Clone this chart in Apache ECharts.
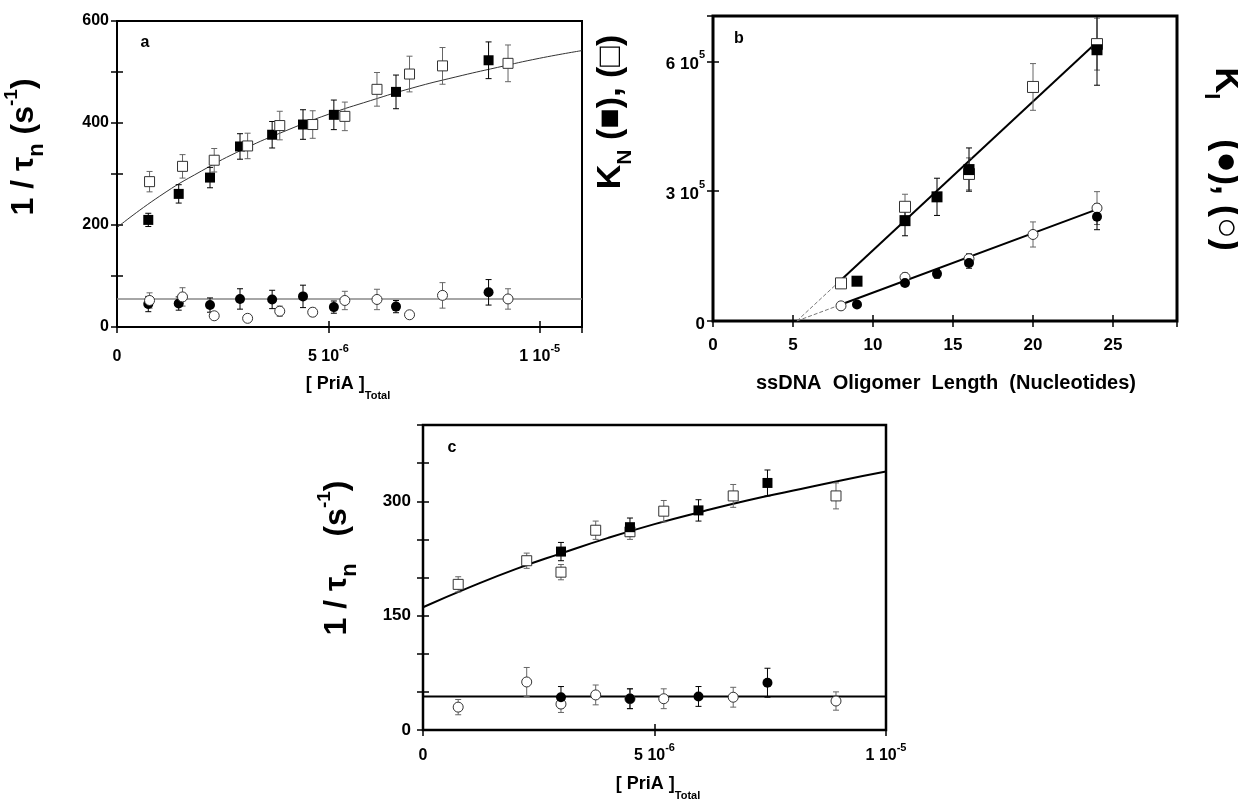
<!DOCTYPE html>
<html><head><meta charset="utf-8">
<script src="https://cdn.jsdelivr.net/npm/echarts/dist/echarts.min.js"></script>
<style>html,body{margin:0;padding:0;background:#fff}#chart{width:1238px;height:804px}</style>
</head><body><div id="chart"></div>
<script>
// ---------------- Panel a : 1/tau_n vs [PriA]_Total ----------------
// [x, y, errorHalfWidth]
const aOpenSquares = [[0.77e-6,285,20],[1.55e-6,315,23],[2.30e-6,327,23],[3.09e-6,355,25],[3.85e-6,395,28],[4.63e-6,397,27],[5.39e-6,413,28],[6.15e-6,466,33],[6.92e-6,496,35],[7.70e-6,512,36],[9.25e-6,517,36]];
const aFilledSquares = [[0.74e-6,210,13],[1.46e-6,261,18],[2.20e-6,293,20],[2.91e-6,354,25],[3.67e-6,377,26],[4.40e-6,397,29],[5.13e-6,416,29],[6.60e-6,461,33],[8.79e-6,523,36]];
const aOpenCircles = [[0.77e-6,52,15],[1.55e-6,59,18],[2.30e-6,22,5],[3.09e-6,17,0],[3.85e-6,31,10],[4.63e-6,29,8],[5.39e-6,52,18],[6.15e-6,54,20],[6.92e-6,24,5],[7.70e-6,62,25],[9.25e-6,55,20]];
const aFilledCircles = [[0.74e-6,45,15],[1.46e-6,46,13],[2.20e-6,43,14],[2.91e-6,55,20],[3.67e-6,54,18],[4.40e-6,60,22],[5.13e-6,39,12],[6.60e-6,40,12],[8.79e-6,68,25]];
const aFitCurve = [[0,195],[1e-6,256],[2e-6,306],[3e-6,349],[4e-6,385],[5e-6,417],[6e-6,444],[7e-6,469],[8e-6,490],[9e-6,509],[1e-5,527],[1.1e-5,542]];
const aBaseline = [[0,55],[1.1e-5,55]];
const aYTicks = [0,200,400,600];

// ---------------- Panel b : K vs ssDNA oligomer length ----------------
const bOpenSquares = [[8,87000,0],[12,264000,29000],[16,340000,37000],[20,541000,54000],[24,640000,60000]];
const bFilledSquares = [[9,92000,8000],[12,232000,35000],[14,287000,43000],[16,350000,50000],[24,627000,82000]];
const bOpenCircles = [[8,35000,0],[12,101000,10000],[16,144000,12000],[20,200000,29000],[24,261000,38000]];
const bFilledCircles = [[9,38000,0],[12,88000,8000],[14,109000,10000],[16,134000,12000],[24,241000,30000]];
const bFitSquares = [[8,95000],[24,645000]];
const bFitCircles = [[8,38000],[24,258000]];
const bDashSquares = [[5.24,0],[8,95000]];
const bDashCircles = [[5.24,0],[8,38000]];
const bXTicks = [0,5,10,15,20,25];

// ---------------- Panel c : 1/tau_n vs [PriA]_Total ----------------
const cOpenSquares = [[0.76e-6,191,10],[2.24e-6,222,10],[2.98e-6,207,10],[3.73e-6,262,12],[4.47e-6,260,10],[5.20e-6,287,14],[6.70e-6,307,15],[8.92e-6,307,17]];
const cFilledSquares = [[2.98e-6,234,12],[4.47e-6,266,12],[5.95e-6,288,14],[7.44e-6,324,17]];
const cOpenCircles = [[0.76e-6,30,10],[2.24e-6,63,19],[2.98e-6,34,11],[3.73e-6,46,13],[4.47e-6,41,13],[5.20e-6,41,13],[6.70e-6,43,13],[8.92e-6,38,12]];
const cFilledCircles = [[2.98e-6,43,14],[4.47e-6,41,13],[5.95e-6,44,13],[7.44e-6,62,19]];
const cFitCurve = [[0,161],[1e-6,187],[2e-6,211],[3e-6,232],[4e-6,252],[5e-6,270],[6e-6,286],[7e-6,301],[8e-6,314],[9e-6,327],[1e-5,339]];
const cBaseline = [[0,44],[1e-5,44]];
const cYTicks = [0,150,300];

// ---------------- rendering ----------------
const F = '"Liberation Sans", Arial, Helvetica, sans-serif';
const chart = echarts.init(document.getElementById('chart'), null, {renderer:'canvas'});

const tickRich = {
  n:{fontSize:16,fontWeight:'bold',fontFamily:F,color:'#000',padding:[6,0,0,0],verticalAlign:'bottom'},
  s:{fontSize:11,fontWeight:'bold',fontFamily:F,color:'#000',verticalAlign:'top'}
};
const tickRichB = {
  n:{fontSize:17,fontWeight:'bold',fontFamily:F,color:'#000',padding:[6,0,0,0],verticalAlign:'bottom'},
  s:{fontSize:11,fontWeight:'bold',fontFamily:F,color:'#000',verticalAlign:'top'}
};
function expFmt(v){
  const k = Math.round(v/1e-6);
  if (k===0) return '{n|0}';
  if (k===5) return '{n|5 10}{s|-6}';
  if (k===10) return '{n|1 10}{s|-5}';
  return '';
}
const labBase = {color:'#000',fontWeight:'bold',fontFamily:F};
const tick = {show:true,inside:true,length:6,lineStyle:{color:'#000',width:1.5}};

function xAxes(grid, min, max, interval, fmt, rich, size, margin){
  return [
    {type:'value',gridIndex:grid,position:'bottom',min,max,interval,splitLine:{show:false},axisLine:{show:false},axisTick:tick,
     axisLabel:Object.assign({},labBase,{fontSize:size,margin,formatter:fmt,rich})},
    {type:'value',gridIndex:grid,position:'top',min,max,interval,splitLine:{show:false},axisLine:{show:false},axisTick:tick,axisLabel:{show:false}}
  ];
}
function yAxes(grid, min, max, interval, fmt, rich, size, margin){
  return [
    {type:'value',gridIndex:grid,position:'left',min,max,interval,splitLine:{show:false},axisLine:{show:false},axisTick:tick,
     axisLabel:Object.assign({},labBase,{fontSize:size,margin,formatter:fmt,rich})},
    {type:'value',gridIndex:grid,position:'right',min,max,interval,splitLine:{show:false},axisLine:{show:false},axisTick:tick,axisLabel:{show:false}}
  ];
}

function errSeries(data, xi, yi, color){
  return {type:'custom',xAxisIndex:xi,yAxisIndex:yi,clip:true,silent:true,z:3,data,
    renderItem(params, api){
      const x=api.value(0), y=api.value(1), e=api.value(2);
      if (!e) return null;
      const hi=api.coord([x,y+e]), lo=api.coord([x,y-e]);
      const st={stroke:color,lineWidth:1};
      const w=3;
      return {type:'group',children:[
        {type:'line',shape:{x1:hi[0],y1:hi[1],x2:lo[0],y2:lo[1]},style:st},
        {type:'line',shape:{x1:hi[0]-w,y1:hi[1],x2:hi[0]+w,y2:hi[1]},style:st},
        {type:'line',shape:{x1:lo[0]-w,y1:lo[1],x2:lo[0]+w,y2:lo[1]},style:st}
      ]};
    }};
}
function pts(data, xi, yi, symbol, size, filled, z){
  return {type:'scatter',xAxisIndex:xi,yAxisIndex:yi,symbol,symbolSize:size,z:z||5,silent:true,
    data:data.map(d=>[d[0],d[1]]),
    itemStyle: filled ? {color:'#000',opacity:1} : {color:'#fff',borderColor:'#333',borderWidth:1,opacity:1}};
}
function line(data, xi, yi, color, width, smooth, type){
  return {type:'line',xAxisIndex:xi,yAxisIndex:yi,data,smooth:smooth||false,showSymbol:false,symbol:'none',silent:true,z:2,
    lineStyle:{color,width,type:type||'solid'}};
}

const titleRich = (size, subK)=>({
  m:{fontSize:size,fontWeight:'bold',fontFamily:F,color:'#000',padding:[6,0,8,0],verticalAlign:'bottom'},
  sub:{fontSize:Math.round(size*(subK||0.62)),fontWeight:'bold',fontFamily:F,color:'#000',verticalAlign:'bottom'},
  sup:{fontSize:Math.round(size*0.58),fontWeight:'bold',fontFamily:F,color:'#000',verticalAlign:'top'}
});
function txt(x, y, text, rich, rot){
  return {type:'text',x,y,rotation:rot||0,silent:true,z:10,
    style:{text,rich,align:'center',verticalAlign:'middle',fill:'#000'}};
}

const option = {
  animation:false,
  backgroundColor:'#fff',
  grid:[
    {left:117,top:21,width:465,height:306,show:true,borderColor:'#000',borderWidth:2,backgroundColor:'transparent'},
    {left:713,top:16,width:464,height:305,show:true,borderColor:'#000',borderWidth:3,backgroundColor:'transparent'},
    {left:423,top:425,width:463,height:305,show:true,borderColor:'#000',borderWidth:2.5,backgroundColor:'transparent'}
  ],
  xAxis:[].concat(
    xAxes(0,0,1.1e-5,5e-6,expFmt,tickRich,16,16),
    xAxes(1,0,29,5,v=>bXTicks.includes(v)?'{n|'+v+'}':'',tickRichB,17,10),
    xAxes(2,0,1e-5,5e-6,expFmt,tickRich,17,12)
  ),
  yAxis:[].concat(
    yAxes(0,0,600,100,v=>aYTicks.includes(v)?String(v):'',null,16,8),
    yAxes(1,0,705000,300000,v=>v===0?'{n|0}':(v===300000?'{n|3 10}{s|5}':(v===600000?'{n|6 10}{s|5}':'')),tickRichB,17,8),
    yAxes(2,0,400,50,v=>cYTicks.includes(v)?String(v):'',null,17,12)
  ),
  series:[
    // panel a
    line(aFitCurve,0,0,'#333',1,true),
    line(aBaseline,0,0,'#888',1.5),
    errSeries(aFilledCircles,0,0,'#000'),
    errSeries(aOpenCircles,0,0,'#666'),
    errSeries(aFilledSquares,0,0,'#000'),
    errSeries(aOpenSquares,0,0,'#666'),
    pts(aFilledCircles,0,0,'circle',10,true,5),
    pts(aOpenCircles,0,0,'circle',10,false,6),
    pts(aFilledSquares,0,0,'rect',10,true,5),
    pts(aOpenSquares,0,0,'rect',10,false,6),
    // panel b
    line(bDashSquares,2,2,'#777',1,false,'dashed'),
    line(bDashCircles,2,2,'#777',1,false,'dashed'),
    line(bFitSquares,2,2,'#000',2),
    line(bFitCircles,2,2,'#000',2),
    errSeries(bOpenSquares,2,2,'#666'),
    errSeries(bOpenCircles,2,2,'#666'),
    errSeries(bFilledSquares,2,2,'#000'),
    errSeries(bFilledCircles,2,2,'#000'),
    pts(bOpenSquares,2,2,'rect',11,false,5),
    pts(bOpenCircles,2,2,'circle',10,false,5),
    pts(bFilledSquares,2,2,'rect',11,true,6),
    pts(bFilledCircles,2,2,'circle',10,true,6),
    // panel c
    line(cFitCurve,4,4,'#000',2,true),
    line(cBaseline,4,4,'#000',2),
    errSeries(cOpenSquares,4,4,'#666'),
    errSeries(cOpenCircles,4,4,'#666'),
    errSeries(cFilledSquares,4,4,'#000'),
    errSeries(cFilledCircles,4,4,'#000'),
    pts(cOpenSquares,4,4,'rect',10,false,5),
    pts(cOpenCircles,4,4,'circle',10,false,5),
    pts(cFilledSquares,4,4,'rect',10,true,6),
    pts(cFilledCircles,4,4,'circle',10,true,6)
  ],
  graphic:[
    txt(25,147,'{m|1 / τ}{sub|n}{m| (s}{sup|-1}{m|)}',titleRich(32,0.68),Math.PI/2),
    txt(348,385,'{m|[ PriA ]}{sub|Total}',titleRich(18)),
    txt(145,43,'{m|a}',{m:{fontSize:16,fontWeight:'bold',fontFamily:F,color:'#000'}}),
    txt(612,112,'{m|K}{sub|N}{m| (■), (□)}',titleRich(34),Math.PI/2),
    txt(1225,159,'{m|K}{sub|I}{m|    (●), (○)}',titleRich(36),-Math.PI/2),
    txt(946,383,'{m|ssDNA  Oligomer  Length  (Nucleotides)}',{m:{fontSize:20,fontWeight:'bold',fontFamily:F,color:'#000'}}),
    txt(739,39,'{m|b}',{m:{fontSize:16,fontWeight:'bold',fontFamily:F,color:'#000'}}),
    txt(338,558,'{m|1 / τ}{sub|n}{m|   (s}{sup|-1}{m|)}',titleRich(32,0.68),Math.PI/2),
    txt(658,785,'{m|[ PriA ]}{sub|Total}',titleRich(18)),
    txt(452,448,'{m|c}',{m:{fontSize:16,fontWeight:'bold',fontFamily:F,color:'#000'}})
  ]
};
chart.setOption(option);
</script>
</body></html>
